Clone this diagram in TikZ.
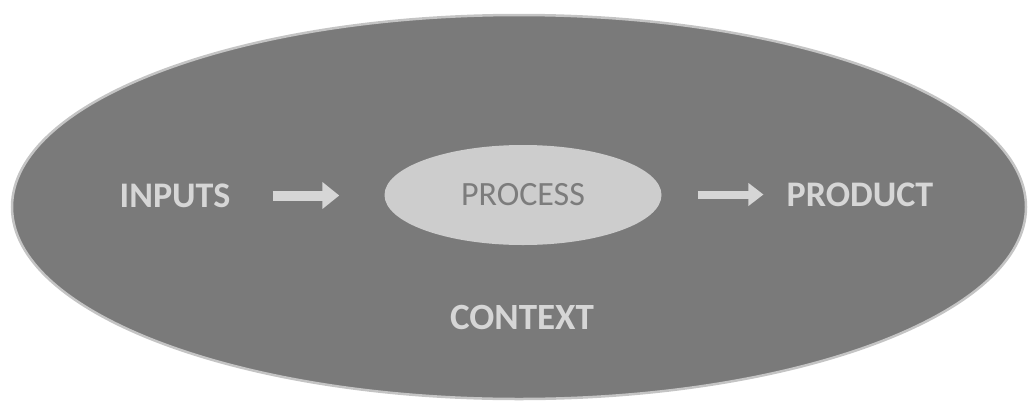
\documentclass[tikz,border=0pt]{standalone}
\usepackage{fontspec}
\setmainfont{Carlito}
\usetikzlibrary{shapes.geometric,arrows.meta}
\definecolor{ctxgray}{HTML}{7A7A7A}
\definecolor{rimgray}{HTML}{C4C4C4}
\definecolor{procgray}{HTML}{CDCDCD}
\definecolor{labelgray}{HTML}{D6D6D6}
\definecolor{proctext}{HTML}{7C7C7C}
\tikzset{
  label/.style={inner sep=0pt,text=labelgray,font=\fontsize{36}{40}\selectfont\bfseries},
  flow/.style={draw=labelgray,-{Triangle[width=26pt,length=17pt]}}
}
\begin{document}
\begin{tikzpicture}[x=1pt,y=-1pt]
  \useasboundingbox (0,0) rectangle (1028,405);
  \draw[fill=ctxgray,draw=rimgray,line width=2.5pt] (519,207) ellipse (507 and 192);
  \node[ellipse,fill=procgray,minimum width=277pt,minimum height=100pt,inner sep=0pt,
        text=proctext,font=\fontsize{34}{38}\selectfont] (process) at (523,195) {PROCESS};
  \node[label] (inputs) at (175,195.5) {INPUTS};
  \node[label] (product) at (860,194.5) {PRODUCT};
  \node[label,font=\fontsize{37}{40}\selectfont\bfseries] (context) at (522,317.5) {CONTEXT};
  \draw[flow,line width=10pt,shorten <=42pt,shorten >=45pt] (inputs.east) -- (inputs.east -| process.west);
  \draw[flow,line width=8pt,shorten <=36pt,shorten >=23pt,-{Triangle[width=22pt,length=15pt]}]
    (process.east |- product.west) -- (product.west);
\end{tikzpicture}
\end{document}
